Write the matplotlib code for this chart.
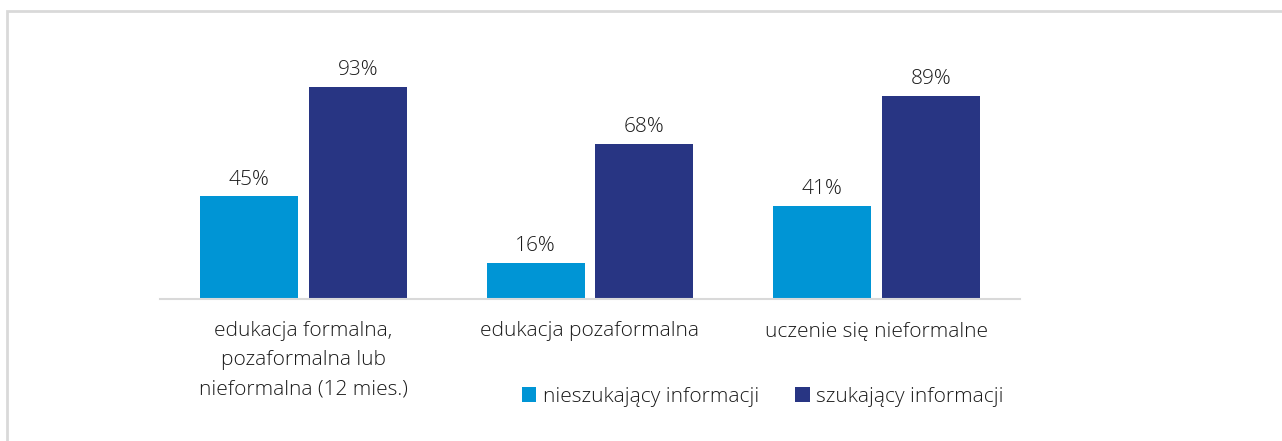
import numpy as np
import matplotlib.pyplot as plt
from matplotlib.patches import Rectangle

plt.rcParams['font.family'] = ['Open Sans', 'DejaVu Sans']
plt.rcParams['font.weight'] = 'light'

categories = ['edukacja formalna,\npozaformalna lub\nnieformalna (12 mies.)',
              'edukacja pozaformalna',
              'uczenie się nieformalne']
nieszukajacy = [45, 16, 41]
szukajacy = [93, 68, 89]
series_names = ['nieszukający informacji', 'szukający informacji']

LIGHT = '#0095d5'
DARK = '#283583'
TXT = '#1a1a1a'

fig = plt.figure(figsize=(12.82, 4.41), dpi=100)
# light gray frame around the chart
fig.patches.append(Rectangle((7 / 1282, -0.1), 1.2, (441 - 11) / 441 + 0.1,
                             transform=fig.transFigure, fill=False,
                             edgecolor='#d9d9d9', linewidth=2))

ax = fig.add_axes([160 / 1282, 1 - 299 / 441, 860 / 1282, 228 / 441])
x = np.arange(len(categories))
w = 0.342
off = 0.19
b1 = ax.bar(x - off, nieszukajacy, w, color=LIGHT, label=series_names[0])
b2 = ax.bar(x + off, szukajacy, w, color=DARK, label=series_names[1])

for bars in (b1, b2):
    for r in bars:
        ax.text(r.get_x() + r.get_width() / 2, r.get_height() + 3,
                f'{r.get_height():.0f}%', ha='center', va='bottom',
                fontsize=15, color=TXT)

ax.set_xlim(-0.5, 2.5)
ax.set_ylim(0, 100)
ax.set_yticks([])
ax.set_xticks(x)
ax.set_xticklabels(categories, fontsize=15, color=TXT, linespacing=1.6)
ax.tick_params(axis='x', length=0, pad=16)
for s in ['top', 'right', 'left']:
    ax.spines[s].set_visible(False)
ax.spines['bottom'].set_color('#d9d9d9')
ax.spines['bottom'].set_linewidth(1.5)

fig.legend(loc='center left', bbox_to_anchor=(503 / 1282, 1 - 397 / 441),
           ncol=2, frameon=False, fontsize=15, handlelength=0.7,
           handleheight=0.7, handletextpad=0.3, columnspacing=1.75,
           labelcolor=TXT)

fig.savefig('out.png', dpi=100)
